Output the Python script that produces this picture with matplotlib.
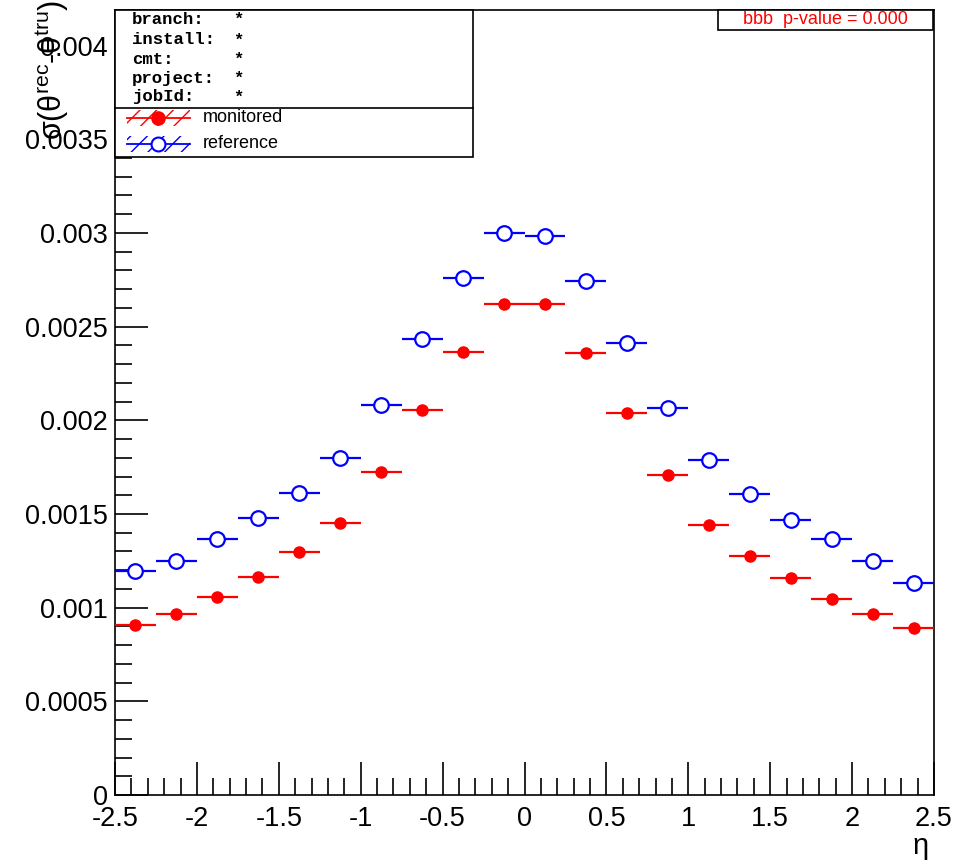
import matplotlib
matplotlib.use("Agg")
import matplotlib.pyplot as plt
from matplotlib.patches import Rectangle
from matplotlib.lines import Line2D
from matplotlib.ticker import MultipleLocator, FuncFormatter
import numpy as np

# ---- data ----
bin_edges = np.linspace(-2.5, 2.5, 21)
eta_centers = (bin_edges[:-1] + bin_edges[1:]) / 2
monitored = [0.000907, 0.000964, 0.001055, 0.001165, 0.001295, 0.001450, 0.001726,
             0.002055, 0.002367, 0.002623, 0.002623, 0.002358, 0.002037, 0.001707,
             0.001441, 0.001276, 0.001157, 0.001048, 0.000964, 0.000890]
reference = [0.001196, 0.001249, 0.001367, 0.001477, 0.001614, 0.001801, 0.002084,
             0.002432, 0.002762, 0.003000, 0.002984, 0.002744, 0.002413, 0.002064,
             0.001790, 0.001607, 0.001468, 0.001367, 0.001249, 0.001130]
info_keys = ["branch:", "install:", "cmt:", "project:", "jobId:"]
info_vals = ["*", "*", "*", "*", "*"]
series_labels = ["monitored", "reference"]
pvalue_text = "bbb  p-value = 0.000"

plt.rcParams['font.family'] = ['Liberation Sans', 'DejaVu Sans']
plt.rcParams['mathtext.fontset'] = 'custom'
plt.rcParams['mathtext.rm'] = 'Liberation Sans'
plt.rcParams['mathtext.it'] = 'Liberation Sans'
plt.rcParams['hatch.linewidth'] = 1.0

W, H = 959, 861
fig = plt.figure(figsize=(W / 100, H / 100), dpi=100)

def fx(px):
    return px / W

def fy(py):
    return 1 - py / H

L, R, T, B = 115, 934, 10, 795
ax = fig.add_axes([fx(L), fy(B), fx(R) - fx(L), fy(T) - fy(B)])

xerr = np.diff(bin_edges) / 2
ax.errorbar(eta_centers, reference, xerr=xerr, fmt='o', color='blue', ecolor='blue',
            elinewidth=1.6, markersize=10.5, markerfacecolor='white',
            markeredgecolor='blue', markeredgewidth=1.6, capsize=0, zorder=3)
ax.errorbar(eta_centers, monitored, xerr=xerr, fmt='o', color='red', ecolor='red',
            elinewidth=1.6, markersize=8, markerfacecolor='red',
            markeredgecolor='red', capsize=0, zorder=4)

ax.set_xlim(-2.5, 2.5)
ax.set_ylim(0, 0.00419)

ax.xaxis.set_major_locator(MultipleLocator(0.5))
ax.xaxis.set_minor_locator(MultipleLocator(0.1))
ax.yaxis.set_major_locator(MultipleLocator(0.0005))
ax.yaxis.set_minor_locator(MultipleLocator(0.0001))

def xfmt(v, pos):
    s = f"{v:g}"
    return "0" if s in ("-0", "0") else s

def yfmt(v, pos):
    if abs(v) < 1e-12:
        return "0"
    return f"{v:.4f}".rstrip('0')

ax.xaxis.set_major_formatter(FuncFormatter(xfmt))
ax.yaxis.set_major_formatter(FuncFormatter(yfmt))

ax.tick_params(which='major', direction='in', length=24, width=1.2, labelsize=19.5,
               top=False, right=False)
ax.tick_params(which='minor', direction='in', length=12, width=1.2,
               top=False, right=False)
ax.tick_params(axis='x', which='major', pad=8)
ax.tick_params(axis='y', which='major', pad=5)
for sp in ax.spines.values():
    sp.set_linewidth(1.2)

# axis labels
fig.text(fx(921), fy(846), "η", fontsize=21, ha='center', va='center')
fig.text(fx(52), fy(0), r"σ(θ$^{\mathrm{rec}}$-θ$^{\mathrm{tru}}$)", fontsize=22,
         rotation=90, ha='center', va='top')

# legend box
lx0, lx1, ly0, lsep, ly1 = 115, 473, 10, 108, 157
fig.add_artist(Rectangle((fx(lx0), fy(ly1)), fx(lx1) - fx(lx0), fy(ly0) - fy(ly1),
                         transform=fig.transFigure, facecolor='white',
                         edgecolor='black', linewidth=1.2, zorder=10))
fig.add_artist(Line2D([fx(lx0), fx(lx1)], [fy(lsep), fy(lsep)],
                      transform=fig.transFigure, color='black', linewidth=1.2, zorder=11))
info_y = [19, 40, 59, 78, 97]
for k, v, yy in zip(info_keys, info_vals, info_y):
    fig.text(fx(132), fy(yy), k, fontsize=12.5, family='Liberation Mono',
             fontweight='bold', va='center', ha='left', zorder=12)
    fig.text(fx(238), fy(yy), v, fontsize=12.5, family='Liberation Mono',
             fontweight='bold', va='center', ha='center', zorder=12)

entry_y = [118, 144]
entry_colors = ['red', 'blue']
entry_face = ['red', 'white']
entry_ms = [9, 10]
for lab, yy, c, fc, ms in zip(series_labels, entry_y, entry_colors, entry_face, entry_ms):
    fig.add_artist(Rectangle((fx(127), fy(yy + 8)), fx(190) - fx(127), fy(yy - 8) - fy(yy + 8),
                             transform=fig.transFigure, facecolor='none', edgecolor=c,
                             linewidth=0, hatch='//', zorder=12))
    fig.add_artist(Line2D([fx(127), fx(190)], [fy(yy), fy(yy)], transform=fig.transFigure,
                          color=c, linewidth=1.3, zorder=13))
    fig.add_artist(Line2D([fx(158)], [fy(yy)], transform=fig.transFigure, marker='o',
                          markersize=ms, markerfacecolor=fc, markeredgecolor=c,
                          markeredgewidth=1.5, linestyle='none', zorder=14))
    fig.text(fx(203), fy(yy), lab, fontsize=13, va='center', ha='left', zorder=12)

# p-value box
fig.add_artist(Rectangle((fx(718), fy(30)), fx(933) - fx(718), fy(10) - fy(30),
                         transform=fig.transFigure, facecolor='white',
                         edgecolor='black', linewidth=1.2, zorder=10))
fig.text(fx((718 + 933) / 2), fy(20), pvalue_text, color='red', fontsize=13,
         ha='center', va='center', zorder=12)

fig.savefig("out.png", dpi=100)
